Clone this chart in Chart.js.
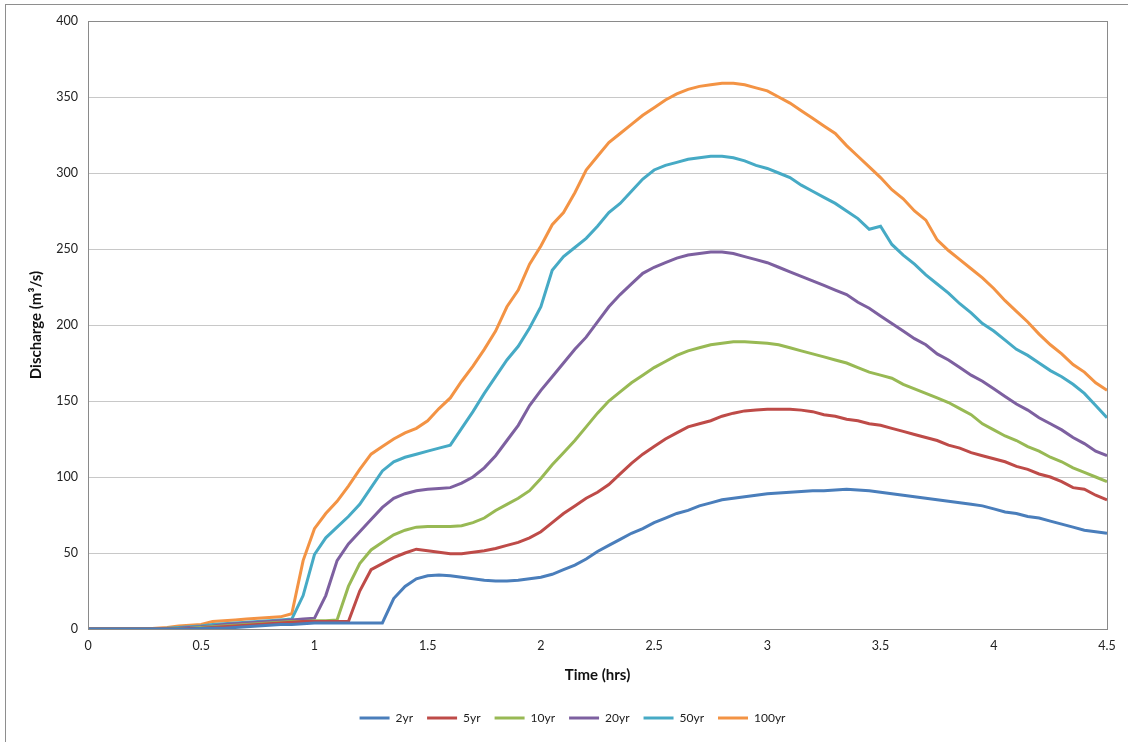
<!DOCTYPE html>
<html>
<head>
<meta charset="utf-8">
<script src="https://cdn.jsdelivr.net/npm/chart.js@4.4.1/dist/chart.umd.min.js"></script>
<style>
  html, body { margin: 0; padding: 0; background: #fff; }
  #wrap { position: relative; width: 1128px; height: 742px; overflow: hidden; }
  #frame { position: absolute; left: 5px; top: 4px; width: 1200px; height: 800px; border: 1px solid #8e8e8e; }
  #chart { position: absolute; left: 0; top: 0; }
</style>
</head>
<body>
<div id="wrap">
  <div id="frame"></div>
  <canvas id="chart" width="1128" height="742"></canvas>
</div>
<script>
// time steps (hrs)
const timeHrs = [0,0.05,0.1,0.15,0.2,0.25,0.3,0.35,0.4,0.45,0.5,0.55,0.6,0.65,0.7,0.75,0.8,0.85,0.9,0.95,
  1,1.05,1.1,1.15,1.2,1.25,1.3,1.35,1.4,1.45,1.5,1.55,1.6,1.65,1.7,1.75,1.8,1.85,1.9,1.95,
  2,2.05,2.1,2.15,2.2,2.25,2.3,2.35,2.4,2.45,2.5,2.55,2.6,2.65,2.7,2.75,2.8,2.85,2.9,2.95,
  3,3.05,3.1,3.15,3.2,3.25,3.3,3.35,3.4,3.45,3.5,3.55,3.6,3.65,3.7,3.75,3.8,3.85,3.9,3.95,
  4,4.05,4.1,4.15,4.2,4.25,4.3,4.35,4.4,4.45,4.5];

// discharge (m3/s) per return period
const q2yr = [0,0,0,0,0,0,0,0,0,0,0.3,0.5,0.5,1,1.5,2,2.5,3,3,3.5,
  4,4,4,4,4,4,4,20,28,33,35,35.5,35,34,33,32,31.5,31.5,32,33,
  34,36,39,42,46,51,55,59,63,66,70,73,76,78,81,83,85,86,87,88,
  89,89.5,90,90.5,91,91,91.5,92,91.5,91,90,89,88,87,86,85,84,83,82,81,
  79,77,76,74,73,71,69,67,65,64,63];
const q5yr = [0,0,0,0,0,0,0,0,0,0.3,0.5,1,1.5,2,2.5,3,3.5,4,4.5,5,
  5,5,5,5,25,39,43,47,50,52.5,51.5,50.5,49.5,49.5,50.5,51.5,53,55,57,60,
  64,70,76,81,86,90,95,102,109,115,120,125,129,133,135,137,140,142,143.5,144,
  144.5,144.5,144.5,144,143,141,140,138,137,135,134,132,130,128,126,124,121,119,116,114,
  112,110,107,105,102,100,97,93,92,88,85];
const q10yr = [0,0,0,0,0,0,0,0,0.3,0.5,1,1.5,2,2.5,3,3.5,4,4.5,5,5,
  5.5,5.5,6,28,43,52,57,62,65,67,67.5,67.5,67.5,68,70,73,78,82,86,91,
  99,108,116,124,133,142,150,156,162,167,172,176,180,183,185,187,188,189,189,188.5,
  188,187,185,183,181,179,177,175,172,169,167,165,161,158,155,152,149,145,141,135,
  131,127,124,120,117,113,110,106,103,100,97];
const q20yr = [0,0,0,0,0,0,0,0.3,0.5,1,1.5,2,3,3.5,4,4.5,5,5.5,6,6.5,
  7,22,45,56,64,72,80,86,89,91,92,92.5,93,96,100,106,114,124,134,147,
  157,166,175,184,192,202,212,220,227,234,238,241,244,246,247,248,248,247,245,243,
  241,238,235,232,229,226,223,220,215,211,206,201,196,191,187,181,177,172,167,163,
  158,153,148,144,139,135,131,126,122,117,114];
const q50yr = [0,0,0,0,0,0,0,0.5,1,1.5,2,3,3.5,4,4.5,5,5.5,6,6.5,22,
  49,60,67,74,82,93,104,110,113,115,117,119,121,132,143,155,166,177,186,198,
  212,236,245,251,257,265,274,280,288,296,302,305,307,309,310,311,311,310,308,305,
  303,300,297,292,288,284,280,275,270,263,265,253,246,240,233,227,221,214,208,201,
  196,190,184,180,175,170,166,161,155,147,139];
const q100yr = [0,0,0,0,0,0,0.5,1,2,2.5,3,5,5.5,6,6.5,7,7.5,8,10,45,
  66,76,84,94,105,115,120,125,129,132,137,145,152,163,173,184,196,212,223,240,
  252,266,274,287,302,311,320,326,332,338,343,348,352,355,357,358,359,359,358,356,
  354,350,346,341,336,331,326,318,311,304,297,289,283,275,269,256,249,243,237,231,
  224,216,209,202,194,187,181,174,169,162,157];

const seriesNames = ["2yr", "5yr", "10yr", "20yr", "50yr", "100yr"];
const seriesValues = [q2yr, q5yr, q10yr, q20yr, q50yr, q100yr];
const seriesColors = ["#4A7EBB", "#BE4B48", "#98B954", "#7D60A0", "#46AAC5", "#F39344"];

const font = "Lato, 'Liberation Sans', sans-serif";

// box around the plot area, like the spreadsheet chart
const plotBorder = {
  id: "plotBorder",
  afterDraw(chart) {
    const { ctx, chartArea: a } = chart;
    ctx.save();
    ctx.strokeStyle = "#8a8a8a";
    ctx.lineWidth = 1;
    ctx.strokeRect(Math.round(a.left) + 0.5, Math.round(a.top) + 0.5,
      Math.round(a.right - a.left), Math.round(a.bottom - a.top));
    ctx.restore();
  }
};

// legend sits a little right of the canvas centre
const legendShift = {
  id: "legendShift",
  afterLayout(chart) {
    chart.legend.left += 19;
    chart.legend.right += 19;
  }
};

new Chart(document.getElementById("chart"), {
  type: "line",
  data: {
    datasets: seriesNames.map((name, k) => ({
      label: name,
      data: timeHrs.map((t, i) => ({ x: t, y: seriesValues[k][i] })),
      borderColor: seriesColors[k],
      backgroundColor: seriesColors[k],
      borderWidth: 3,
      pointRadius: 0,
      tension: 0,
      fill: false
    }))
  },
  options: {
    responsive: false,
    animation: false,
    layout: { padding: { left: 0, top: 21, right: 21, bottom: 8 } },
    plugins: {
      legend: {
        position: "bottom",
        labels: {
          usePointStyle: true,
          pointStyle: "line",
          pointStyleWidth: 30,
          boxHeight: 12,
          padding: 14,
          color: "#222",
          font: { family: font, size: 12 }
        }
      },
      tooltip: { enabled: false }
    },
    scales: {
      x: {
        type: "linear",
        min: 0,
        max: 4.5,
        ticks: {
          stepSize: 0.5, padding: 9, color: "#222", font: { family: font, size: 12.5 },
          callback: v => String(Math.round(v * 10) / 10)
        },
        grid: { display: false, drawTicks: false },
        border: { display: true, color: "#8a8a8a" },
        title: { display: true, text: "Time (hrs)", color: "#111", padding: { top: 0, bottom: 14 },
          font: { family: font, size: 15, weight: "bold" } },
        afterFit(scale) { scale.height = 69; }
      },
      y: {
        min: 0,
        max: 400,
        ticks: { stepSize: 50, padding: 10, color: "#222", font: { family: font, size: 12.5 } },
        grid: { color: "#c8c8c8", drawTicks: false },
        border: { display: true, color: "#8a8a8a" },
        title: { display: true, text: "Discharge (m³/s)", color: "#111", padding: { top: 27, bottom: 0 },
          font: { family: font, size: 15, weight: "bold" } },
        afterFit(scale) { scale.width = 88; }
      }
    }
  },
  plugins: [plotBorder, legendShift]
});
</script>
</body>
</html>
